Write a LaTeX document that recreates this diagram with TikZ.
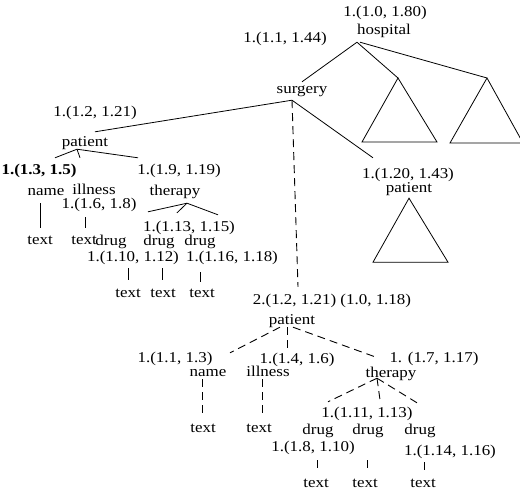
\documentclass[tikz,border=0pt]{standalone}
\usepackage{fontspec}
\setmainfont[FakeStretch=1.13]{Liberation Serif}
\usetikzlibrary{calc}
\tikzset{
  treenode/.style = {align=center, inner sep=0pt, text centered,
    font=\fontsize{15}{15}\selectfont, text height=11pt, text depth=3pt},
  tr_n/.style = {treenode},% noeud, nom
  tr_l/.style = {treenode},% etiquette, intervalle
  tr_b/.style = {treenode, font=\fontsize{15}{15}\selectfont\bfseries},% etiquette grasse
  tr_e/.style = {line width=0.8pt},% arete pleine
  tr_d/.style = {line width=0.9pt, dash pattern=on 8pt off 5pt}% arete pointillee
}

\begin{document}
\begin{tikzpicture}[x=1pt, y=-1pt]
\useasboundingbox (0,0) rectangle (520,490);

% arbre du haut
\node[tr_l] (hl) at (385,12) {1.(1.0, 1.80)};
\node[tr_n] (hosp) at (384,30) {hospital};
\node[tr_l] (sl) at (285,38) {1.(1.1, 1.44)};
\node[tr_n] (surg) at (302,89) {surgery};
\coordinate (t1) at (398,78);
\coordinate (t2) at (487,78);

\node[tr_l] (p1l) at (95,112) {1.(1.2, 1.21)};
\node[tr_n] (p1) at (85,142) {patient};
\node[tr_b] (n1l) at (39,170) {1.(1.3, 1.5)};
\node[tr_l] (th1l) at (179,170) {1.(1.9, 1.19)};
\node[tr_n] (n1) at (46,191) {name};
\node[tr_n] (i1) at (94,190) {illness};
\node[tr_n] (th1) at (175,191) {therapy};
\node[tr_l] (i1l) at (99,204) {1.(1.6, 1.8)};
\node[tr_l] (d2l) at (189,227) {1.(1.13, 1.15)};
\node[tr_n] (x1) at (40,240) {text};
\node[tr_n] (x2) at (84,240) {text};
\node[tr_n] (d1) at (111,241) {drug};
\node[tr_n] (d2) at (159,241) {drug};
\node[tr_n] (d3) at (200,241) {drug};
\node[tr_l] (d1l) at (133,257) {1.(1.10, 1.12)};
\node[tr_l] (d3l) at (232,257) {1.(1.16, 1.18)};
\node[tr_n] (y1) at (128,293) {text};
\node[tr_n] (y2) at (163,293) {text};
\node[tr_n] (y3) at (202,293) {text};

\node[tr_l] (p3l) at (408,174) {1.(1.20, 1.43)};
\node[tr_n] (p3) at (409,188) {patient};
\coordinate (t3) at ([yshift=-3pt]p3.south);

% arbre du bas
\node[tr_l] (p2l) at (332,300) {2.(1.2, 1.21) (1.0, 1.18)};
\node[tr_n] (p2) at (292,320) {patient};
\node[tr_l] (n2l) at (175,358) {1.(1.1, 1.3)};
\node[tr_l] (i2l) at (297,359) {1.(1.4, 1.6)};
\node[tr_l] (th2l) at (434,358) {1. (1.7, 1.17)};
\node[tr_n] (n2) at (208,372) {name};
\node[tr_n] (i2) at (268,372) {illness};
\node[tr_n] (th2) at (391,373) {therapy};
\node[tr_l] (d5l) at (367,413) {1.(1.11, 1.13)};
\node[tr_n] (x3) at (203,428) {text};
\node[tr_n] (x4) at (259,428) {text};
\node[tr_n] (d4) at (318,430) {drug};
\node[tr_n] (d5) at (368,430) {drug};
\node[tr_n] (d6) at (420,430) {drug};
\node[tr_l] (d4l) at (313,447) {1.(1.8, 1.10)};
\node[tr_l] (d6l) at (450,451) {1.(1.14, 1.16)};
\node[tr_n] (y4) at (316,483) {text};
\node[tr_n] (y5) at (365,483) {text};
\node[tr_n] (y6) at (423,483) {text};

% aretes
\draw[tr_e] ([xshift=-27pt,yshift=-5pt]hosp.south) -- (surg.north);
\draw[tr_e] ([xshift=-27pt,yshift=-5pt]hosp.south) -- (t1);
\draw[tr_e] ([xshift=-24pt,yshift=-5pt]hosp.south) -- (t2);
\draw[tr_e] (t1) -- ++(-36,64) -- ++(75,0) -- cycle;
\draw[tr_e] (t2) -- ++(-37,65) -- ++(73,0) -- cycle;
\draw[tr_e] (t3) -- ++(-36,64) -- ++(75,0) -- cycle;

\draw[tr_e] ([xshift=-10pt,yshift=-4pt]surg.south) -- ([xshift=10pt,yshift=3pt]p1.north);
\draw[tr_d] ([xshift=-10pt,yshift=-4pt]surg.south) -- ([xshift=-34pt,yshift=6pt]p2l.north);
\draw[tr_e] ([xshift=-10pt,yshift=-4pt]surg.south) -- ([xshift=-35pt,yshift=9pt]p3l.north);

\draw[tr_e] ([xshift=-8pt]p1.south) -- ([xshift=16pt,yshift=5pt]n1l.north);
\draw[tr_e] ([xshift=-8pt]p1.south) -- ([xshift=-14pt,yshift=25pt]i1.north);
\draw[tr_e] ([xshift=-8pt]p1.south) -- ([xshift=-41pt,yshift=5pt]th1l.north);
\draw[tr_e] ([xshift=-6pt,yshift=-5pt]n1.south) -- ([yshift=5pt]x1.north);
\draw[tr_e] ([xshift=-14pt,yshift=-6pt]i1l.south) -- ([xshift=1pt,yshift=5pt]x2.north);
\draw[tr_e] ([xshift=12pt,yshift=-5pt]th1.south) -- ([xshift=37pt,yshift=22pt]d1.north);
\draw[tr_e] ([xshift=12pt,yshift=-5pt]th1.south) -- ([xshift=18pt,yshift=21pt]d2.north);
\draw[tr_e] ([xshift=12pt,yshift=-5pt]th1.south) -- ([xshift=18pt,yshift=19pt]d3.north);
\draw[tr_e] ([xshift=17pt,yshift=-20pt]d1.south) -- ([yshift=6pt]y1.north);
\draw[tr_e] ([xshift=3pt,yshift=-20pt]d2.south) -- ([xshift=-1pt,yshift=6pt]y2.north);
\draw[tr_e] ([yshift=-24pt]d3.south) -- ([xshift=-2pt,yshift=4pt]y3.north);

\draw[tr_d] ([xshift=-12pt]p2.south) -- ([xshift=22pt,yshift=12pt]n2.north);
\draw[tr_d] ([xshift=-5pt]p2.south) -- ([xshift=19pt,yshift=15pt]i2.north);
\draw[tr_d] ([xshift=1pt]p2.south) -- ([xshift=-16pt,yshift=9pt]th2.north);
\draw[tr_d] ([xshift=-6pt]n2.south) -- ([xshift=-1pt,yshift=4pt]x3.north);
\draw[tr_d] ([xshift=-6pt]i2.south) -- ([xshift=3pt,yshift=6pt]x4.north);
\draw[tr_d] ([xshift=-14pt,yshift=2pt]th2.south) -- ([xshift=10pt,yshift=21pt]d4.north);
\draw[tr_d] ([xshift=-14pt,yshift=2pt]th2.south) -- ([xshift=12pt,yshift=23pt]d5.north);
\draw[tr_d] ([xshift=-14pt,yshift=2pt]th2.south) -- ([xshift=-3pt,yshift=20pt]d6.north);
\draw[tr_e] ([xshift=-1pt,yshift=-23pt]d4.south) -- ([xshift=1pt,yshift=8pt]y4.north);
\draw[tr_e] ([xshift=-1pt,yshift=-23pt]d5.south) -- ([xshift=2pt,yshift=8pt]y5.north);
\draw[tr_e] ([xshift=4pt,yshift=-25pt]d6.south) -- ([xshift=1pt,yshift=6pt]y6.north);
%\draw[tr_d] (p2) -- (p3);
\end{tikzpicture}
\end{document}
